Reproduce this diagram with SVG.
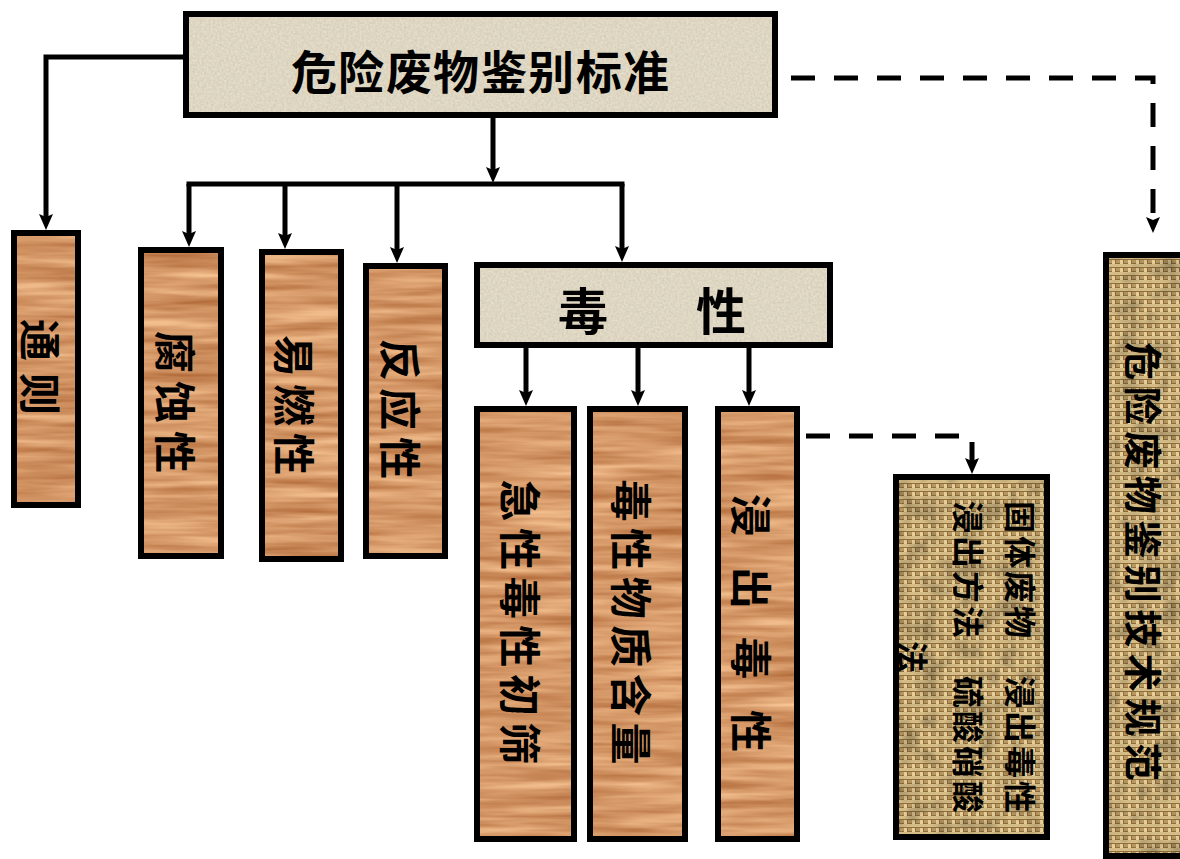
<svg xmlns="http://www.w3.org/2000/svg" width="1180" height="859" viewBox="0 0 1180 859">
  <style>
    .frame { fill: none; stroke: #000; stroke-width: 6; }
    .t { font-family: "Noto Sans CJK SC", "Noto Sans", sans-serif; font-weight: 700; fill: #000; text-anchor: middle; dominant-baseline: central; }
    .wood { filter: url(#woodTex); fill: #d59867; }
    .paper { filter: url(#paperTex); fill: #ded6c2; }
    .burlap { fill: url(#burlapPat); filter: url(#burlapTex); }
    .line { fill: none; stroke: #000; stroke-width: 5; }
    .dash { fill: none; stroke: #000; stroke-width: 5; stroke-dasharray: 24 19; }
  </style>
  <defs>
    <filter id="woodTex" x="0" y="0" width="1" height="1" color-interpolation-filters="sRGB">
      <feTurbulence type="fractalNoise" baseFrequency="0.008 0.11" numOctaves="3" seed="7" result="n"/>
      <feColorMatrix in="n" type="matrix" values="0.35 0 0 0 0.66  0.45 0 0 0 0.37  0.45 0 0 0 0.18  0 0 0 0 1"/>
    </filter>
    <filter id="paperTex" x="0" y="0" width="1" height="1" color-interpolation-filters="sRGB">
      <feTurbulence type="fractalNoise" baseFrequency="0.45 0.45" numOctaves="2" seed="3" result="n"/>
      <feColorMatrix in="n" type="matrix" values="0.12 0 0 0 0.81  0.12 0 0 0 0.78  0.12 0 0 0 0.70  0 0 0 0 1"/>
    </filter>
    <filter id="burlapTex" x="0" y="0" width="1" height="1" color-interpolation-filters="sRGB">
      <feTurbulence type="fractalNoise" baseFrequency="0.05" numOctaves="2" seed="2" result="n"/>
      <feColorMatrix in="n" type="matrix" values="0.6 0 0 0 0.66  0.6 0 0 0 0.66  0.6 0 0 0 0.66  0 0 0 0 1" result="g"/>
      <feBlend in="SourceGraphic" in2="g" mode="multiply"/>
    </filter>
    <pattern id="burlapPat" patternUnits="userSpaceOnUse" width="8" height="8">
      <rect width="8" height="8" fill="#8e6e3c"/>
      <rect x="0" y="0" width="8" height="3" fill="#d6bd87"/>
      <rect x="0" y="4" width="3" height="4" fill="#e6cf9b"/>
      <rect x="4" y="4" width="4" height="3" fill="#b9985f"/>
    </pattern>
    <marker id="arr" markerUnits="userSpaceOnUse" markerWidth="16" markerHeight="14" viewBox="0 0 16 14" refX="6" refY="7" orient="auto">
      <path d="M0,0 L16,7 L0,14 L3,7 Z" fill="#000"/>
    </marker>
  </defs>

  <g id="connectors">
    <path class="line" d="M186,57 H46 V220" marker-end="url(#arr)"/>
    <path class="line" d="M493,118 V173" marker-end="url(#arr)"/>
    <path class="line" d="M189,184 H622" stroke-linecap="square"/>
    <path class="line" d="M189,184 V237" marker-end="url(#arr)"/>
    <path class="line" d="M285,184 V239" marker-end="url(#arr)"/>
    <path class="line" d="M397,184 V253" marker-end="url(#arr)"/>
    <path class="line" d="M622,184 V252" marker-end="url(#arr)"/>
    <path class="line" d="M526,348 V396" marker-end="url(#arr)"/>
    <path class="line" d="M638,348 V396" marker-end="url(#arr)"/>
    <path class="line" d="M749,348 V396" marker-end="url(#arr)"/>
    <path class="dash" d="M791,78 H1153 V223" marker-end="url(#arr)"/>
    <path class="dash" d="M806,436 H972 V464" marker-end="url(#arr)"/>
  </g>

  <g id="node-root">
    <rect class="paper" x="186" y="14" width="589" height="101"/>
    <rect class="frame" x="186" y="14" width="589" height="101"/>
    <text class="t" font-size="46" x="314 361 409 456 504 551 599 646" y="69">危险废物鉴别标准</text>
  </g>

  <g id="node-general">
    <rect class="wood" x="14" y="233" width="64" height="272"/>
    <rect class="frame" x="14" y="233" width="64" height="272"/>
    <text class="t" font-size="42" transform="translate(42,367) rotate(90)" x="-27 27" y="0">通则</text>
  </g>

  <g id="node-corrosive">
    <rect class="wood" x="141" y="250" width="80" height="306"/>
    <rect class="frame" x="141" y="250" width="80" height="306"/>
    <text class="t" font-size="42" transform="translate(177,402) rotate(90)" x="-50 0 50" y="0">腐蚀性</text>
  </g>

  <g id="node-flammable">
    <rect class="wood" x="262" y="252" width="79" height="307"/>
    <rect class="frame" x="262" y="252" width="79" height="307"/>
    <text class="t" font-size="42" transform="translate(296,405) rotate(90)" x="-49 0 49" y="0">易燃性</text>
  </g>

  <g id="node-reactive">
    <rect class="wood" x="366" y="266" width="79" height="290"/>
    <rect class="frame" x="366" y="266" width="79" height="290"/>
    <text class="t" font-size="42" transform="translate(402,409) rotate(90)" x="-49 0 49" y="0">反应性</text>
  </g>

  <g id="node-toxicity">
    <rect class="paper" x="477" y="265" width="353" height="80"/>
    <rect class="frame" x="477" y="265" width="353" height="80"/>
    <text class="t" font-size="50" x="583 721" y="308">毒性</text>
  </g>

  <g id="node-acute">
    <rect class="wood" x="477" y="409" width="97" height="430"/>
    <rect class="frame" x="477" y="409" width="97" height="430"/>
    <text class="t" font-size="42" transform="translate(522,622) rotate(90)" x="-121.5 -72.9 -24.3 24.3 72.9 121.5" y="0">急性毒性初筛</text>
  </g>

  <g id="node-content">
    <rect class="wood" x="590" y="409" width="95" height="430"/>
    <rect class="frame" x="590" y="409" width="95" height="430"/>
    <text class="t" font-size="42" transform="translate(633,622) rotate(90)" x="-121.5 -72.9 -24.3 24.3 72.9 121.5" y="0">毒性物质含量</text>
  </g>

  <g id="node-leaching">
    <rect class="wood" x="718" y="409" width="79" height="430"/>
    <rect class="frame" x="718" y="409" width="79" height="430"/>
    <text class="t" font-size="42" transform="translate(753,623) rotate(90)" x="-108 -35 35 108" y="0">浸出毒性</text>
  </g>

  <g id="node-leaching-method">
    <rect class="burlap" x="896" y="477" width="151" height="360"/>
    <rect class="frame" x="896" y="477" width="151" height="360"/>
    <text class="t" font-size="32" transform="translate(1022,657) rotate(90)" x="-140 -105 -70 -35 0 35 70 105 140" y="0">固体废物 浸出毒性</text>
    <text class="t" font-size="32" transform="translate(970,657) rotate(90)" x="-140 -105 -70 -35 0 35 70 105 140" y="0">浸出方法 硫酸硝酸</text>
    <text class="t" font-size="32" transform="translate(914,657) rotate(90)" x="0" y="0">法</text>
  </g>

  <g id="node-tech-spec">
    <rect class="burlap" x="1106" y="255" width="100" height="601"/>
    <rect class="frame" x="1106" y="255" width="100" height="601"/>
    <text class="t" font-size="38" transform="translate(1145,561.5) rotate(90)" x="-200.25 -155.75 -111.25 -66.75 -22.25 22.25 66.75 111.25 155.75 200.25" y="0">危险废物鉴别技术规范</text>
  </g>
</svg>
